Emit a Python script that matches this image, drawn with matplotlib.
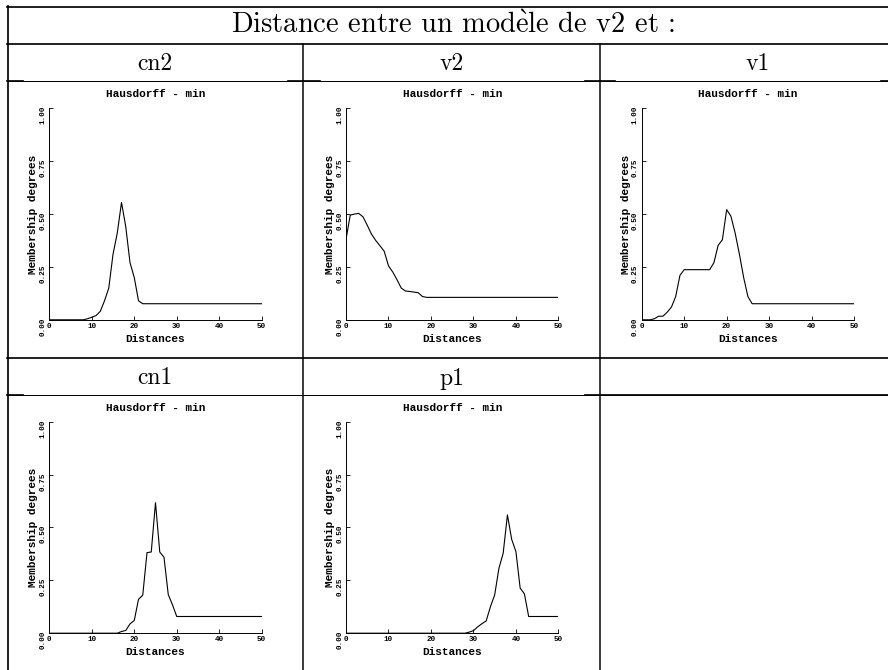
import numpy as np
import matplotlib
matplotlib.use("Agg")
import matplotlib.pyplot as plt
from matplotlib.lines import Line2D

# membership curves, one value per integer distance 0..50
distances = list(range(51))

cn2 = [0, 0, 0, 0, 0, 0, 0, 0, 0, 0.005, 0.012, 0.02, 0.04, 0.09, 0.15, 0.31,
       0.41, 0.555, 0.44, 0.27, 0.20, 0.09] + [0.076] * 29
v2 = [0.38, 0.495, 0.50, 0.503, 0.487, 0.447, 0.405, 0.375, 0.35, 0.324, 0.255,
      0.226, 0.19, 0.15, 0.136, 0.134, 0.131, 0.128, 0.11] + [0.106] * 32
v1 = [0, 0, 0, 0.005, 0.017, 0.017, 0.036, 0.06, 0.11, 0.21, 0.237, 0.237, 0.237,
      0.237, 0.237, 0.237, 0.237, 0.27, 0.352, 0.379, 0.521, 0.49, 0.41, 0.31,
      0.20, 0.11] + [0.076] * 25
cn1 = [0] * 17 + [0.008, 0.013, 0.044, 0.06, 0.16, 0.18, 0.381, 0.384, 0.617,
                  0.384, 0.359, 0.183, 0.134] + [0.079] * 21
p1 = [0] * 29 + [0.005, 0.012, 0.03, 0.045, 0.058, 0.125, 0.181, 0.307, 0.378,
                 0.559, 0.444, 0.386, 0.213, 0.186] + [0.079] * 8

# è drawn through mathtext so it stays in Computer Modern
header = r"Distance entre un mod$\grave{\mathrm{e}}$le de v2 et :"
names = ["cn2", "v2", "v1", "cn1", "p1"]
curves = [cn2, v2, v1, cn1, p1]
xticks = [0, 10, 20, 30, 40, 50]
yticks = [0.00, 0.25, 0.50, 0.75, 1.00]

plt.rcParams["mathtext.fontset"] = "cm"

W, H = 888, 670
fig = plt.figure(figsize=(W / 100, H / 100), dpi=100)

serif = ["cmr10", "DejaVu Serif"]
mono = "Liberation Mono"


def hline(y, x0, x1, lw=1.7):
    fig.add_artist(Line2D([x0 / W, x1 / W], [1 - y / H, 1 - y / H],
                          transform=fig.transFigure, color="black", lw=lw * 0.72))


def vline(x, y0, y1, lw=1.5):
    fig.add_artist(Line2D([x / W, x / W], [1 - y0 / H, 1 - y1 / H],
                          transform=fig.transFigure, color="black", lw=lw * 0.72))


# table grid
hline(6.5, 6.7, W)
hline(43.5, 6.7, W)
hline(81.2, 6.7, W, lw=1.0)
for a, b in [(6.7, 23), (288, 320), (585, 615), (881, W)]:
    hline(81.0, a, b)
hline(357.7, 6.7, W)
hline(394.7, 6.7, W, lw=1.0)
for a, b in [(6.7, 23), (585, W)]:
    hline(394.5, a, b)
vline(7.5, 5.7, H, lw=1.7)
vline(303, 43.5, H)
vline(600, 43.5, H)

# header text
fig.text(453 / W, 1 - 33.3 / H, header, family=serif, fontsize=20.5,
         ha="center", va="baseline")
col_x = [155, 451.5, 757.6, 155, 451.5]
base_y = [70.3, 70.3, 70.3, 384.5, 384.5]
for nm, cx, by in zip(names, col_x, base_y):
    fig.text(cx / W, 1 - by / H, nm, family=serif, fontsize=17,
             ha="center", va="baseline")

# plot areas (pixel left, top)
boxes = [(49.3, 108.3), (346, 108.3), (641.7, 108.3), (49.3, 421.7), (346, 421.7)]
aw, ah = 212.4, 211.5

for (left, top), ys in zip(boxes, curves):
    ax = fig.add_axes([left / W, 1 - (top + ah) / H, aw / W, ah / H])
    ax.plot(distances, ys, color="black", lw=0.8)
    ax.set_xlim(0, 50)
    ax.set_ylim(0, 1)
    ax.set_xticks(xticks)
    ax.set_yticks(yticks)
    ax.set_xticklabels([str(t) for t in xticks], family=mono, fontweight="bold", fontsize=5.5)
    ax.set_yticklabels(["%.2f" % t for t in yticks], family=mono, fontweight="bold", fontsize=5.5)
    ax.tick_params(direction="in", length=3, width=0.6, pad=2)
    ax.tick_params(axis="y", labelrotation=90)
    for s in ["top", "right"]:
        ax.spines[s].set_visible(False)
    for s in ["left", "bottom"]:
        ax.spines[s].set_linewidth(0.7)
    ax.patch.set_alpha(0)
    ax.set_title("Hausdorff - min", family=mono, fontweight="bold", fontsize=8, pad=8)
    ax.set_xlabel("Distances", family=mono, fontweight="bold", fontsize=8, labelpad=3)
    ax.set_ylabel("Membership degrees", family=mono, fontweight="bold", fontsize=8, labelpad=1)

fig.savefig("out.png", dpi=100)
